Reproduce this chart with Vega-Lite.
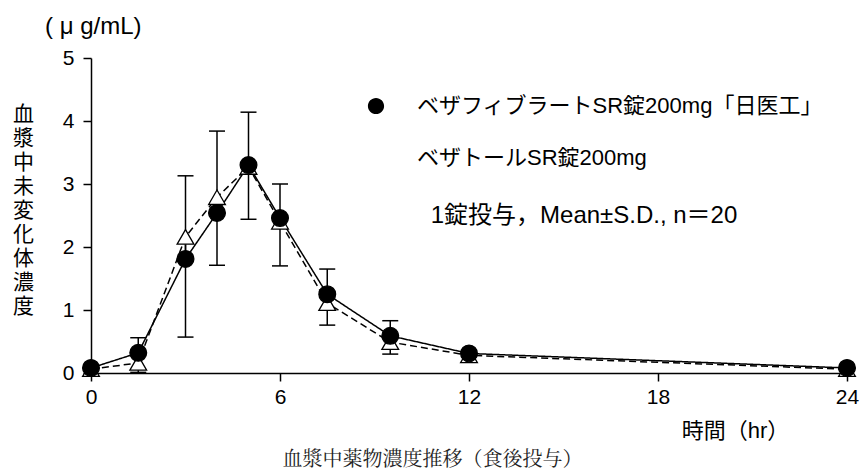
{
  "$schema": "https://vega.github.io/schema/vega-lite/v6.json",
  "autosize": {"type": "none"},
  "width": 756,
  "height": 315,
  "padding": {"left": 91, "top": 58, "right": 19, "bottom": 97},
  "background": "white",
  "title": {
    "text": "( μ g/mL)",
    "anchor": "start",
    "frame": "group",
    "orient": "top",
    "dx": -46,
    "offset": 8,
    "font": "Liberation Sans, Noto Sans CJK JP",
    "fontSize": 24,
    "fontWeight": "normal",
    "color": "black"
  },
  "data": {
    "values": [
      {"series": "ベザトールSR錠200mg", "time": 0, "conc": 0.06},
      {"series": "ベザトールSR錠200mg", "time": 1.5, "conc": 0.16, "err": 0.01},
      {"series": "ベザトールSR錠200mg", "time": 3, "conc": 2.16, "err": 0.57},
      {"series": "ベザトールSR錠200mg", "time": 4, "conc": 2.79, "err": 1.71},
      {"series": "ベザトールSR錠200mg", "time": 5, "conc": 3.27, "err": 2.44},
      {"series": "ベザトールSR錠200mg", "time": 6, "conc": 2.4, "err": 1.7},
      {"series": "ベザトールSR錠200mg", "time": 7.5, "conc": 1.11, "err": 0.76},
      {"series": "ベザトールSR錠200mg", "time": 9.5, "conc": 0.49, "err": 0.3},
      {"series": "ベザトールSR錠200mg", "time": 12, "conc": 0.28},
      {"series": "ベザトールSR錠200mg", "time": 24, "conc": 0.06},
      {"series": "ベザフィブラートSR錠200mg「日医工」", "time": 0, "conc": 0.08},
      {"series": "ベザフィブラートSR錠200mg「日医工」", "time": 1.5, "conc": 0.32, "err": 0.56},
      {"series": "ベザフィブラートSR錠200mg「日医工」", "time": 3, "conc": 1.81, "err": 3.13},
      {"series": "ベザフィブラートSR錠200mg「日医工」", "time": 4, "conc": 2.54, "err": 3.84},
      {"series": "ベザフィブラートSR錠200mg「日医工」", "time": 5, "conc": 3.3, "err": 4.14},
      {"series": "ベザフィブラートSR錠200mg「日医工」", "time": 6, "conc": 2.46, "err": 3.0},
      {"series": "ベザフィブラートSR錠200mg「日医工」", "time": 7.5, "conc": 1.25, "err": 1.65},
      {"series": "ベザフィブラートSR錠200mg「日医工」", "time": 9.5, "conc": 0.59, "err": 0.83},
      {"series": "ベザフィブラートSR錠200mg「日医工」", "time": 12, "conc": 0.31},
      {"series": "ベザフィブラートSR錠200mg「日医工」", "time": 24, "conc": 0.08}
    ]
  },
  "layer": [
    {
      "transform": [{"filter": "isValid(datum.err)"}],
      "mark": {"type": "rule", "color": "black", "strokeWidth": 1.5},
      "encoding": {
        "x": {
          "field": "time", "type": "quantitative",
          "scale": {"domain": [0, 24], "nice": false, "zero": false},
          "axis": {
            "values": [0, 6, 12, 18, 24],
            "grid": false,
            "labelFlush": false,
            "domainColor": "black", "domainWidth": 1.5,
            "tickColor": "black", "tickWidth": 1.5, "tickSize": 8,
            "labelFont": "Liberation Sans", "labelFontSize": 21, "labelColor": "black", "labelPadding": 5,
            "title": "時間（hr）",
            "titleX": 644, "titleY": 57, "titleAlign": "center", "titleBaseline": "middle",
            "titleFont": "Liberation Sans, Noto Sans CJK JP", "titleFontSize": 22, "titleFontWeight": "normal", "titleColor": "black"
          }
        },
        "y": {
          "field": "conc", "type": "quantitative",
          "scale": {"domain": [0, 5], "nice": false},
          "axis": {
            "values": [0, 1, 2, 3, 4, 5],
            "format": "d",
            "grid": false,
            "labelFlush": false,
            "domainColor": "black", "domainWidth": 1.5,
            "tickColor": "black", "tickWidth": 1.5, "tickSize": 8,
            "labelFont": "Liberation Sans", "labelFontSize": 21, "labelColor": "black", "labelPadding": 9,
            "title": ["血", "漿", "中", "未", "変", "化", "体", "濃", "度"],
            "titleAngle": 0, "titleX": -68, "titleY": 45, "titleAlign": "center", "titleBaseline": "top",
            "titleLineHeight": 24,
            "titleFont": "Noto Sans CJK JP", "titleFontSize": 21, "titleFontWeight": "normal", "titleColor": "black"
          }
        },
        "y2": {"field": "err"}
      }
    },
    {
      "transform": [{"filter": "isValid(datum.err)"}],
      "mark": {"type": "tick", "orient": "horizontal", "color": "black", "size": 16, "thickness": 1.5, "opacity": 1},
      "encoding": {
        "x": {
          "field": "time", "type": "quantitative",
          "axis": {
            "orient": "bottom", "domain": false, "ticks": false, "labels": false, "grid": false,
            "title": "血漿中薬物濃度推移（食後投与）",
            "titleX": 341, "titleY": 86, "titleAlign": "center", "titleBaseline": "middle",
            "titleFont": "Noto Serif CJK JP, Noto Sans CJK JP", "titleFontSize": 20, "titleFontWeight": "normal", "titleColor": "#222"
          }
        },
        "y": {"field": "err", "type": "quantitative"}
      }
    },
    {
      "mark": {"type": "line", "color": "black", "strokeWidth": 1.5},
      "encoding": {
        "x": {"field": "time", "type": "quantitative", "axis": null},
        "y": {"field": "conc", "type": "quantitative"},
        "strokeDash": {
          "field": "series", "type": "nominal",
          "scale": {"domain": ["ベザフィブラートSR錠200mg「日医工」", "ベザトールSR錠200mg"], "range": [[1, 0], [7, 4]]},
          "legend": null
        }
      }
    },
    {
      "mark": {"type": "point", "filled": true, "stroke": "black", "strokeWidth": 1.3, "opacity": 1, "size": 280},
      "encoding": {
        "x": {"field": "time", "type": "quantitative", "axis": null},
        "y": {"field": "conc", "type": "quantitative"},
        "fill": {
          "field": "series", "type": "nominal",
          "scale": {"domain": ["ベザフィブラートSR錠200mg「日医工」", "ベザトールSR錠200mg"], "range": ["black", "white"]},
          "legend": null
        },
        "shape": {
          "field": "series", "type": "nominal",
          "scale": {"domain": ["ベザフィブラートSR錠200mg「日医工」", "ベザトールSR錠200mg"], "range": ["circle", "triangle-up"]},
          "legend": null
        }
      }
    },
    {
      "mark": {"type": "point", "filled": true, "strokeWidth": 1.5, "opacity": 0},
      "encoding": {
        "x": {"field": "time", "type": "quantitative", "axis": null},
        "y": {"field": "conc", "type": "quantitative"},
        "stroke": {
          "field": "series", "type": "nominal",
          "scale": {"domain": ["ベザフィブラートSR錠200mg「日医工」", "ベザトールSR錠200mg"], "range": ["black", "black"]},
          "legend": {}
        },
        "fill": {
          "field": "series", "type": "nominal",
          "scale": {"domain": ["ベザフィブラートSR錠200mg「日医工」", "ベザトールSR錠200mg"], "range": ["black", "white"]},
          "legend": {}
        },
        "shape": {
          "field": "series", "type": "nominal",
          "scale": {
            "domain": ["ベザフィブラートSR錠200mg「日医工」", "ベザトールSR錠200mg"],
            "range": [
              "M-1,0H-0.27M0.27,0H1M0.27,0A0.27 0.27 0 1 1 -0.27,0A0.27 0.27 0 1 1 0.27,0Z",
              "M-1,0H-0.8M-0.66,0H-0.46M0.46,0H0.66M0.8,0H1M0,-0.29L0.29,0.24L-0.29,0.24Z"
            ]
          },
          "legend": {
            "orient": "none", "legendX": 254, "legendY": 17,
            "padding": 0,
            "symbolSize": 3600,
            "symbolOpacity": 1,
            "symbolStrokeWidth": 1.5,
            "symbolStrokeColor": "black",
            "labelFont": "Liberation Sans, Noto Sans CJK JP", "labelFontSize": 22, "labelColor": "black",
            "labelLimit": 1000, "labelOffset": 10,
            "rowPadding": 9,
            "title": "1錠投与，Mean±S.D., n＝20",
            "titleOrient": "bottom", "titleAnchor": "middle", "titlePadding": 35, "titleLimit": 1000,
            "titleFont": "Liberation Sans, Noto Sans CJK JP", "titleFontSize": 24, "titleFontWeight": "normal", "titleColor": "black"
          }
        }
      }
    }
  ],
  "resolve": {
    "axis": {"x": "independent"},
    "scale": {"shape": "independent", "fill": "independent"}
  },
  "config": {"view": {"stroke": null}}
}
